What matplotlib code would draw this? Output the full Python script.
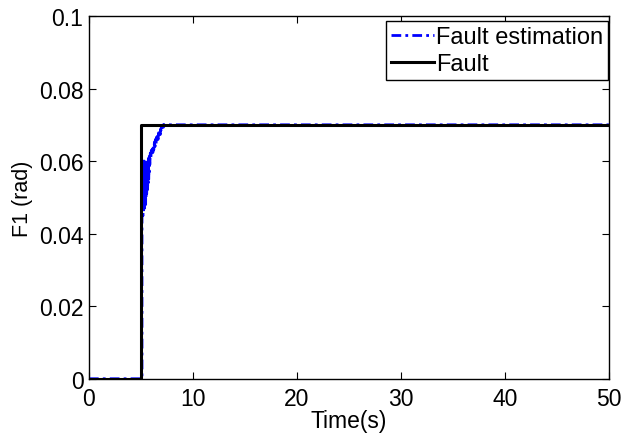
import matplotlib
matplotlib.use('Agg')
import matplotlib.pyplot as plt

plt.rcParams['font.family'] = ['Liberation Sans', 'DejaVu Sans']

# 실제 고장 (step)
fault_time = [0, 5, 5, 50]
fault_val = [0, 0, 0.07, 0.07]

# 고장 추정값
est_time = [0, 5.1,
            5.100, 5.125, 5.150, 5.175, 5.200, 5.225, 5.250, 5.275, 5.300, 5.325,
            5.350, 5.375, 5.400, 5.425, 5.450, 5.475, 5.500, 5.525, 5.550, 5.575,
            5.600, 5.625, 5.650, 5.675, 5.700, 5.725, 5.750, 5.775, 5.800, 5.825,
            5.850,
            5.90, 5.95, 6.00, 6.05, 6.10, 6.15, 6.20, 6.25, 6.30, 6.35, 6.40, 6.45,
            6.50, 6.55, 6.60, 6.65, 6.70, 6.75, 6.80, 6.85, 6.90, 6.95, 7.00, 7.05,
            7.10, 7.15, 7.20, 7.25, 7.30, 7.60, 50]
est_val = [0, 0,
           0.045, 0.060, 0.047, 0.059, 0.045, 0.060, 0.046, 0.058, 0.048, 0.060,
           0.047, 0.059, 0.049, 0.058, 0.048, 0.059, 0.050, 0.058, 0.051, 0.060,
           0.052, 0.059, 0.053, 0.060, 0.054, 0.061, 0.055, 0.061, 0.057, 0.062,
           0.059,
           0.0622, 0.0608, 0.0630, 0.0616, 0.0638, 0.0624, 0.0645, 0.0632, 0.0653,
           0.0640, 0.0660, 0.0647, 0.0666, 0.0654, 0.0672, 0.0660, 0.0678, 0.0666,
           0.0684, 0.0673, 0.0689, 0.0680, 0.0694, 0.0687, 0.0699, 0.0693, 0.0701,
           0.0697, 0.0700, 0.0700, 0.0700]

xticks = [0, 10, 20, 30, 40, 50]
yticks = [0, 0.02, 0.04, 0.06, 0.08, 0.1]
ytick_labels = ['0', '0.02', '0.04', '0.06', '0.08', '0.1']

fig = plt.figure(figsize=(6.22, 4.35), dpi=100)
ax = fig.add_axes([0.143, 0.127, 0.836, 0.834])

ax.plot(est_time, est_val, color='blue', linestyle=(0, (3.5, 1.5, 1, 1.5)),
        linewidth=2, label='Fault estimation')
ax.plot(fault_time, fault_val, color='black', linewidth=2.2, label='Fault')

ax.set_xlim(0, 50)
ax.set_ylim(0, 0.1)
ax.set_xticks(xticks)
ax.set_yticks(yticks)
ax.set_yticklabels(ytick_labels)
ax.tick_params(direction='in', top=True, right=True, labelsize=16.5, length=5)
ax.tick_params(axis='x', pad=6)
ax.tick_params(axis='y', pad=4)
for s in ax.spines.values():
    s.set_linewidth(1)

ax.set_xlabel('Time(s)', fontsize=16.5, labelpad=-1)
ax.set_ylabel('F1 (rad)', fontsize=15.5, labelpad=4)

leg = ax.legend(loc='upper right', bbox_to_anchor=(0.998, 0.986), borderaxespad=0,
                fontsize=17, fancybox=False, framealpha=1, edgecolor='black',
                handlelength=1.8, handletextpad=0.1, borderpad=0.2,
                labelspacing=0.22)
leg.get_frame().set_linewidth(1)

fig.savefig('out.png', dpi=100)
